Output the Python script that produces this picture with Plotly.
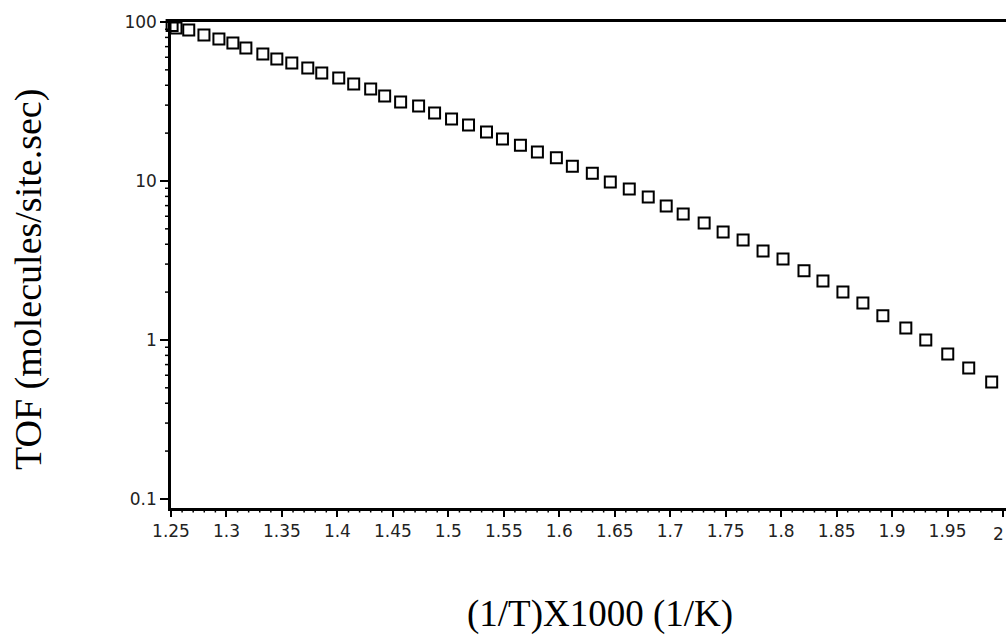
import math
import plotly.graph_objects as go

inv_T = [1.251, 1.2545, 1.266, 1.2797, 1.2932, 1.3058, 1.3175, 1.3328, 1.3454, 1.3589,
         1.3733, 1.3859, 1.4012, 1.4147, 1.430, 1.4426, 1.457, 1.4732, 1.4876, 1.5029,
         1.5182, 1.5344, 1.5488, 1.565, 1.5803, 1.5974, 1.6118, 1.6298, 1.646, 1.6631,
         1.6802, 1.6964, 1.7117, 1.7306, 1.7477, 1.7657, 1.7837, 1.8017, 1.8206, 1.8377,
         1.8557, 1.8737, 1.8917, 1.9124, 1.9304, 1.9502, 1.9691, 1.9898]
tof = [95.0, 91.7, 89.1, 82.7, 78.2, 73.8, 68.6, 62.9, 58.5, 55.2,
       51.4, 47.8, 44.4, 40.7, 37.9, 34.3, 31.4, 29.6, 26.8, 24.5,
       22.5, 20.3, 18.4, 16.8, 15.2, 14.0, 12.4, 11.2, 9.86, 8.91,
       7.93, 6.96, 6.20, 5.44, 4.78, 4.26, 3.63, 3.23, 2.72, 2.35,
       2.00, 1.71, 1.42, 1.19, 1.00, 0.817, 0.667, 0.544]

x_ticks = [1.25, 1.3, 1.35, 1.4, 1.45, 1.5, 1.55, 1.6, 1.65, 1.7, 1.75, 1.8, 1.85, 1.9, 1.95]
x_tick_text = ["1.25", "1.3", "1.35", "1.4", "1.45", "1.5", "1.55", "1.6", "1.65", "1.7",
               "1.75", "1.8", "1.85", "1.9", "1.95"]
x_last_tick, x_last_text = 2.0, "2"
y_ticks = [0.1, 1, 10, 100]
y_tick_text = ["0.1", "1", "10", "100"]
y_minor = [m * 10.0 ** d for d in (-1, 0, 1) for m in range(2, 10)]
x_minor = [round(1.25 + 0.01 * i, 2) for i in range(76) if i % 5 != 0]

L, B, T = 171, 129, 22
pw = 1006 - L
ph = 637 - T - B
x_range = [1.25, 2.0027]
y_range = [-1.057, 2.0]


def xfrac(v):
    return (v - x_range[0]) / (x_range[1] - x_range[0])


def yfrac(v):
    return (math.log10(v) - y_range[0]) / (y_range[1] - y_range[0])


fig = go.Figure()
fig.add_trace(go.Scatter(
    x=inv_T, y=tof, mode="markers",
    marker=dict(symbol="square-open", size=11, color="black", line=dict(width=2)),
    showlegend=False, cliponaxis=False,
))

tick_font = dict(family="DejaVu Sans, sans-serif", size=17, color="#222")

# minor tick decorations placed along the axes' own scales
shapes = []
for v in y_minor:
    f = yfrac(v)
    shapes.append(dict(type="line", xref="paper", yref="paper", x0=-6.0 / pw, x1=0,
                       y0=f, y1=f, line=dict(color="black", width=1.5)))
for v in x_minor:
    f = xfrac(v)
    shapes.append(dict(type="line", xref="paper", yref="paper", x0=f, x1=f,
                       y0=0, y1=-4.5 / ph, line=dict(color="black", width=1.5)))

fig.update_layout(
    width=1006, height=637,
    margin=dict(l=L, r=0, t=T, b=B),
    paper_bgcolor="white", plot_bgcolor="white",
    shapes=shapes,
    xaxis=dict(
        range=x_range, tickmode="array", tickvals=x_ticks + [x_last_tick],
        ticktext=x_tick_text + [""],
        showline=True, linecolor="black", linewidth=2.5, mirror=True,
        ticks="outside", ticklen=6, tickwidth=2, tickcolor="black",
        showgrid=False, zeroline=False, tickfont=tick_font,
    ),
    yaxis=dict(
        type="log", range=y_range, tickmode="array", tickvals=y_ticks, ticktext=y_tick_text,
        showline=True, linecolor="black", linewidth=2.5, mirror=False,
        ticks="outside", ticklen=8, tickwidth=1.5, tickcolor="black",
        showgrid=False, zeroline=False, tickfont=tick_font,
    ),
)

anns = [
    dict(text=x_last_text, x=1.0, xref="paper", y=-14.0 / ph, yref="paper",
         xanchor="right", yanchor="top", showarrow=False, font=tick_font),
    dict(text="(1/T)X1000 (1/K)", x=(600 - L) / pw, y=(637 - B - 614) / ph,
         xref="paper", yref="paper", xanchor="center", yanchor="middle", showarrow=False,
         font=dict(family="Liberation Serif, Times New Roman, serif", size=37, color="black")),
    dict(text="TOF (molecules/site.sec)", x=(28 - L) / pw, y=(637 - B - 280) / ph, textangle=-90,
         xref="paper", yref="paper", xanchor="center", yanchor="middle", showarrow=False,
         font=dict(family="Liberation Serif, Times New Roman, serif", size=38, color="black")),
]
fig.update_layout(annotations=anns)

fig.write_html("out.html")
